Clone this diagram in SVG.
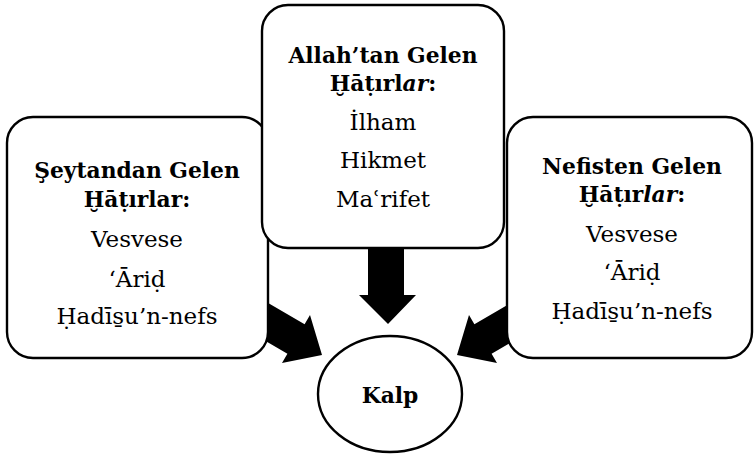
<svg xmlns="http://www.w3.org/2000/svg" width="754" height="456" viewBox="0 0 754 456">
<style>
.box{fill:#fff;stroke:#000;stroke-width:2.4}
.arr{fill:#000;stroke:none}
text{font-family:"DejaVu Serif","Liberation Serif",serif;font-size:23px;fill:#000;text-anchor:middle}
.b{font-weight:bold;font-size:21.8px}
.i{font-style:italic}
</style>
<rect width="754" height="456" fill="#fff"/>
<g id="connectors">
<polygon class="arr" points="252.8,294.1 304.6,324.3 310,315 322,355 282,363 287.4,353.7 235.6,323.5"/>
<polygon class="arr" points="526.2,294.1 474.4,324.3 469,315 457,355 497,363 491.6,353.7 543.4,323.5"/>
<polygon class="arr" points="368,240 404,240 404,295 416,295 388,324 359,295 368,295"/>
</g>
<g id="seytan">
<rect class="box" x="7" y="117" width="261" height="241" rx="26"/>
<text class="b" x="137" y="178">Şeytandan Gelen</text>
<text class="b" x="137" y="207">Ḫāṭırlar:</text>
<text x="137" y="247">Vesvese</text>
<text x="137" y="287">‘Āriḍ</text>
<text x="137" y="324">Ḥadīs̱u’n-nefs</text>
</g>
<g id="nefis">
<rect class="box" x="507" y="117" width="245" height="241" rx="26"/>
<text class="b" x="632" y="174">Nefisten Gelen</text>
<text class="b" x="632" y="202">Ḫāṭır<tspan class="i">lar</tspan>:</text>
<text x="632" y="242">Vesvese</text>
<text x="632" y="280">‘Āriḍ</text>
<text x="632" y="319">Ḥadīs̱u’n-nefs</text>
</g>
<g id="allah">
<rect class="box" x="262" y="5" width="242" height="243" rx="26"/>
<text class="b" x="383" y="63">Allah’tan Gelen</text>
<text class="b" x="383" y="91">Ḫāṭırl<tspan class="i">ar</tspan>:</text>
<text x="383" y="130">İlham</text>
<text x="383" y="168">Hikmet</text>
<text x="383" y="207">Maʿrifet</text>
</g>
<g id="kalp">
<ellipse class="box" cx="390" cy="394" rx="72" ry="58"/>
<text class="b" x="390" y="403">Kalp</text>
</g>
</svg>
